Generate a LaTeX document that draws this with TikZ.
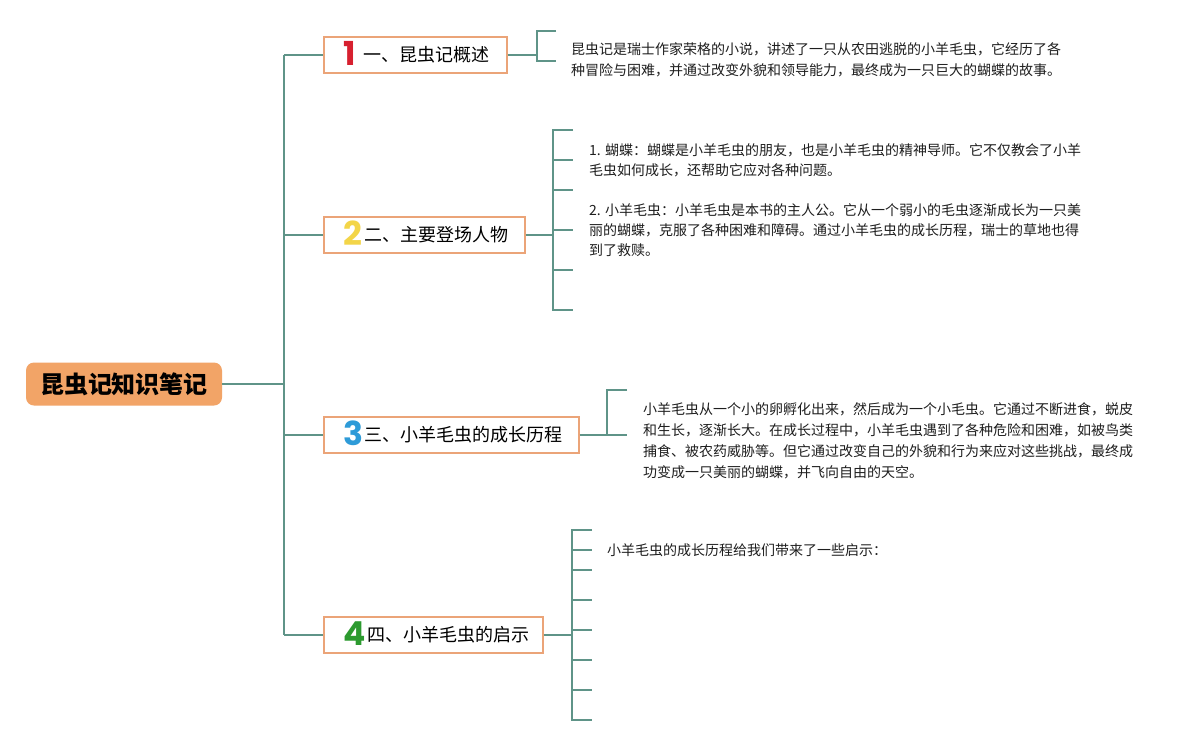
\documentclass[tikz,border=0pt]{standalone}
\usepackage{fontspec}
\setmainfont{Noto Sans CJK SC}
\newfontfamily\numfont{Poppins}
\definecolor{linec}{HTML}{5F9488}
\definecolor{rootfill}{HTML}{F2A467}
\definecolor{boxline}{HTML}{EBA478}
\definecolor{nred}{HTML}{D7202F}
\definecolor{nyellow}{HTML}{F3D548}
\definecolor{nblue}{HTML}{2E9BD8}
\definecolor{ngreen}{HTML}{2C9A2F}
\definecolor{bodyc}{HTML}{1E1E1E}
\newcommand\bnum[2]{\smash{\raisebox{-4pt}{\numfont\bfseries\fontsize{33}{33}\selectfont\textcolor{#1}{#2}}}}
\newcommand\blabel[2]{\makebox[#1][l]{\hspace{20pt}#2}}
\begin{document}
\begin{tikzpicture}[x=1pt,y=-1pt,
  conn/.style={draw=linec,line width=1.8pt},
  rootbox/.style={fill=rootfill,rounded corners=8pt,minimum width=196pt,minimum height=43pt,inner sep=0pt,font=\fontsize{24}{28}\selectfont\bfseries},
  branchbox/.style={draw=boxline,fill=white,line width=1.6pt,minimum height=36pt,inner sep=0pt,anchor=west,font=\fontsize{18}{22}\selectfont},
  bodytext/.style={anchor=north west,inner sep=0pt,align=left,text=bodyc,font=\fontsize{14}{21}\selectfont}]
\useasboundingbox (0,0) rectangle (1203,745);
\fill[white] (0,0) rectangle (1203,745);

% trunk
\coordinate (ttop) at (284,55);
\coordinate (tbot) at (284,635);

\node[rootbox] (root) at (124,384) {昆虫记知识笔记};

\node[branchbox] (b1) at (323,55) {\blabel{183pt}{\bnum{nred}{1}\hspace{7pt}一、昆虫记概述}};
\node[branchbox] (b2) at (323,235) {\blabel{201pt}{\bnum{nyellow}{2}\hspace{2pt}二、主要登场人物}};
\node[branchbox] (b3) at (323,435) {\blabel{255pt}{\bnum{nblue}{3}\hspace{1pt}三、小羊毛虫的成长历程}};
\node[branchbox] (b4) at (323,635) {\blabel{219pt}{\bnum{ngreen}{4}\hspace{1pt}四、小羊毛虫的启示}};

\draw[conn] (ttop) -- (tbot);
\draw[conn] (root.east) -- (root.east -| ttop);
\draw[conn] (ttop) -- (b1.west);
\draw[conn] (b2.west -| ttop) -- (b2.west);
\draw[conn] (b3.west -| ttop) -- (b3.west);
\draw[conn] (tbot) -- (b4.west);

% bracket 1
\coordinate (k1) at (537,55);
\coordinate (k1a) at (556,31);
\coordinate (k1b) at (556,61);
\draw[conn] (b1.east) -- (k1);
\draw[conn] (k1a) -- (k1a -| k1) -- (k1b -| k1) -- (k1b);
\node[bodytext] (t1) at (571,42) {昆虫记是瑞士作家荣格的小说，讲述了一只从农田逃脱的小羊毛虫，它经历了各\\种冒险与困难，并通过改变外貌和领导能力，最终成为一只巨大的蝴蝶的故事。};

% bracket 2
\coordinate (k2) at (553,235);
\draw[conn] (b2.east) -- (k2);
\draw[conn] (573,130) -- (553,130) -- (553,310) -- (573,310);
\foreach \yy in {160,190,230,270} \draw[conn] (553,\yy) -- (573,\yy);
\node[bodytext,font=\fontsize{14}{20}\selectfont] (t2a) at (589,143) {1. 蝴蝶：蝴蝶是小羊毛虫的朋友，也是小羊毛虫的精神导师。它不仅教会了小羊\\毛虫如何成长，还帮助它应对各种问题。};
\node[bodytext,font=\fontsize{14}{20}\selectfont] (t2b) at (589,203) {2. 小羊毛虫：小羊毛虫是本书的主人公。它从一个弱小的毛虫逐渐成长为一只美\\丽的蝴蝶，克服了各种困难和障碍。通过小羊毛虫的成长历程，瑞士的草地也得\\到了救赎。};

% bracket 3
\coordinate (k3) at (607,435);
\draw[conn] (b3.east) -- (k3);
\draw[conn] (627,390) -- (607,390) -- (607,435) -- (627,435);
\node[bodytext] (t3) at (643,402) {小羊毛虫从一个小的卵孵化出来，然后成为一个小毛虫。它通过不断进食，蜕皮\\和生长，逐渐长大。在成长过程中，小羊毛虫遇到了各种危险和困难，如被鸟类\\捕食、被农药威胁等。但它通过改变自己的外貌和行为来应对这些挑战，最终成\\功变成一只美丽的蝴蝶，并飞向自由的天空。};

% bracket 4
\coordinate (k4) at (572,635);
\draw[conn] (b4.east) -- (k4);
\draw[conn] (592,530) -- (572,530) -- (572,720) -- (592,720);
\foreach \yy in {550,570,600,630,660,690} \draw[conn] (572,\yy) -- (592,\yy);
\node[bodytext] (t4) at (607,543) {小羊毛虫的成长历程给我们带来了一些启示：};
\end{tikzpicture}
\end{document}
